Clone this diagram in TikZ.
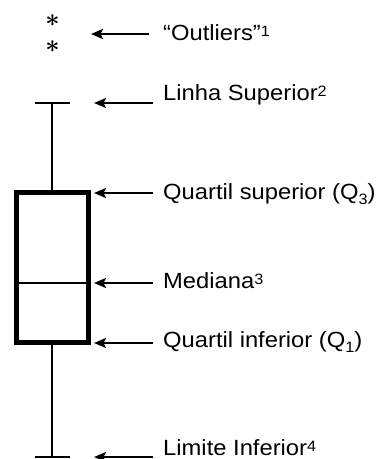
\documentclass[tikz,border=0pt]{standalone}
\usepackage{fontspec}
\setmainfont{Liberation Sans}[FakeStretch=1.08]
\usetikzlibrary{arrows.meta}
\newcommand{\supx}[1]{\raisebox{4pt}{\fontsize{15}{15}\selectfont #1}}
\newcommand{\subx}[1]{\raisebox{-5pt}{\fontsize{15}{15}\selectfont #1}}
\begin{document}
\begin{tikzpicture}[x=1pt,y=-1pt,
  lbl/.style={anchor=base west,inner sep=0pt,font=\fontsize{22}{24}\selectfont},
  ptr/.style={line width=2.5pt,-{Stealth[length=12pt,width=10pt,inset=2.5pt]}},
  boxline/.style={line width=5pt},
  whisk/.style={line width=2.8pt},
  star/.style={inner sep=0pt,font=\fontsize{30}{30}\selectfont\boldmath}]
\useasboundingbox (0,0) rectangle (379,459);
% outliers
\node[star] (s1) at (52.5,21) {$\ast$};
\node[star] (s2) at (52.5,47) {$\ast$};
% whiskers
\coordinate (tcl) at (35,103);
\coordinate (tcr) at (70,103);
\coordinate (tm) at (52,103);
\coordinate (bcl) at (35,457);
\coordinate (bcr) at (70,457);
\coordinate (bm) at (52,457);
\coordinate (q3m) at (52,192);
\coordinate (q1m) at (52,342);
\draw[whisk] (tcl) -- (tcr);
\draw[whisk] (tm) -- (q3m);
\draw[whisk] (bcl) -- (bcr);
\draw[whisk] (bm) -- (q1m);
% box
\coordinate (bl) at (16.5,342);
\coordinate (tr) at (88,192);
\draw[boxline] (bl) rectangle (tr);
\coordinate (ml) at (16.5,283);
\coordinate (mr) at (88,283);
\draw[line width=2.5pt] (ml) -- (mr);
% labels
\node[lbl] (lo) at (163,40) {“Outliers”\supx{1}};
\node[lbl] (ls) at (163,100) {Linha Superior\supx{2}};
\node[lbl] (lq3) at (163,199) {Quartil superior (Q\subx{3})};
\node[lbl] (lm) at (163,288) {Mediana\supx{3}};
\node[lbl] (lq1) at (163,347) {Quartil inferior (Q\subx{1})};
\node[lbl] (li) at (163,455) {Limite Inferior\supx{4}};
% arrow ends
\coordinate (a1s) at (149,34);  \coordinate (a1e) at (91,34);
\coordinate (a2s) at (153,103); \coordinate (a2e) at (94,103);
\coordinate (a3s) at (153,193); \coordinate (a3e) at (94,193);
\coordinate (a4s) at (153,283); \coordinate (a4e) at (94,283);
\coordinate (a5s) at (153,343); \coordinate (a5e) at (94,343);
\coordinate (a6s) at (153,457); \coordinate (a6e) at (94,457);
\draw[ptr] (a1s) -- (a1e);
\draw[ptr] (a2s) -- (a2e);
\draw[ptr] (a3s) -- (a3e);
\draw[ptr] (a4s) -- (a4e);
\draw[ptr] (a5s) -- (a5e);
\draw[ptr] (a6s) -- (a6e);
\end{tikzpicture}
\end{document}
